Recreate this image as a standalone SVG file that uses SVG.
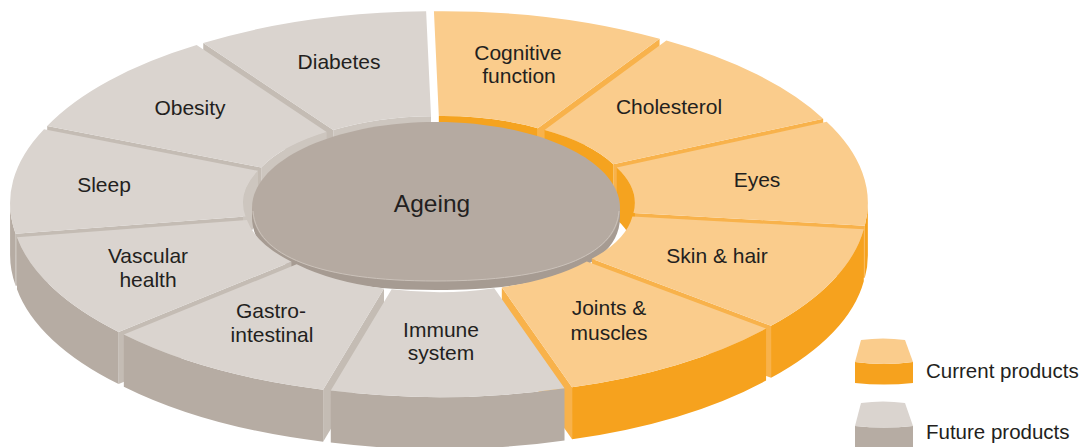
<svg xmlns="http://www.w3.org/2000/svg" width="1090" height="447" viewBox="0 0 1090 447">
<style>
.t{font-family:"Liberation Sans",Arial,Helvetica,sans-serif;font-size:21px;fill:#231f20;text-anchor:middle}
.lg{font-family:"Liberation Sans",Arial,Helvetica,sans-serif;font-size:20.5px;fill:#231f20}
.ot{fill:#facc8c}.ow{fill:#f6a21e}.or{fill:#f8b24b}.oi{fill:#f5a31f}
.gt{fill:#dad4cf}.gw{fill:#b6aca3}.gr{fill:#c4bcb4}.gi{fill:#cdc6bf}
</style>
<defs>
<path id="disc" d="M252,208 C252,160.5 334.4,122 436,122 C537.6,122 620,160.5 620,208 C620,255 555.6,281 436,281 C316.4,281 252,255 252,208 Z"/>
</defs>
<rect width="1090" height="447" fill="#ffffff"/>

<g id="node-cognitive">
<g transform="translate(439,204) scale(1,0.45) rotate(-1.2) translate(3.9,-13.4)">
<path class="or" d="M224.3,-349.1 L98.4,-153.1 L96.0,-37.5 L221.9,-233.5 Z"/>
<path class="oi" d="M0,-182 A182,182 0 0 1 98.4,-153.1 L96.0,-37.5 A182,182 0 0 0 -2.4,-66.4 Z"/>
<path class="ot" d="M0,-182 L0,-415 A415,415 0 0 1 224.3,-349.1 L98.4,-153.1 A182,182 0 0 0 0,-182 Z"/>
</g>
<text class="t" x="518" y="60">Cognitive</text>
<text class="t" x="519" y="83">function</text>
</g>

<g id="node-diabetes">
<g transform="translate(439,204) scale(1,0.45) rotate(-1.2) translate(-3.9,-13.4)">
<path class="gr" d="M-224.3,-349.1 L-98.4,-153.1 L-100.8,-37.5 L-226.7,-233.5 Z"/>
<path class="gi" d="M-98.4,-153.1 A182,182 0 0 1 0,-182 L-2.4,-66.4 A182,182 0 0 0 -100.8,-37.5 Z"/>
<path class="gt" d="M-98.4,-153.1 L-224.3,-349.1 A415,415 0 0 1 0,-415 L0,-182 A182,182 0 0 0 -98.4,-153.1 Z"/>
</g>
<text class="t" x="339" y="69">Diabetes</text>
</g>

<g id="node-cholesterol">
<g transform="translate(439,204) scale(1,0.45) rotate(-1.2) translate(10.6,-9.2)">
<path class="or" d="M377.5,-172.4 L165.5,-75.6 L163.1,40.0 L375.1,-56.8 Z"/>
<path class="oi" d="M98.4,-153.1 A182,182 0 0 1 165.5,-75.6 L163.1,40.0 A182,182 0 0 0 96.0,-37.5 Z"/>
<path class="ot" d="M98.4,-153.1 L224.3,-349.1 A415,415 0 0 1 377.5,-172.4 L165.5,-75.6 A182,182 0 0 0 98.4,-153.1 Z"/>
</g>
<text class="t" x="669" y="114">Cholesterol</text>
</g>

<g id="node-obesity">
<g transform="translate(439,204) scale(1,0.45) rotate(-1.2) translate(-10.6,-9.2)">
<path class="gr" d="M-377.5,-172.4 L-165.5,-75.6 L-167.9,40.0 L-379.9,-56.8 Z"/>
<path class="gi" d="M-165.5,-75.6 A182,182 0 0 1 -98.4,-153.1 L-100.8,-37.5 A182,182 0 0 0 -167.9,40.0 Z"/>
<path class="gt" d="M-165.5,-75.6 L-377.5,-172.4 A415,415 0 0 1 -224.3,-349.1 L-98.4,-153.1 A182,182 0 0 0 -165.5,-75.6 Z"/>
</g>
<text class="t" x="190" y="115">Obesity</text>
</g>

<g id="node-eyes">
<g transform="translate(439,204) scale(1,0.45) rotate(-1.2) translate(13.9,-2.0)">
<path class="or" d="M410.8,59.1 L180.1,25.9 L177.7,141.5 L408.4,174.7 Z"/>
<path class="oi" d="M165.5,-75.6 A182,182 0 0 1 182.0,3.8 L179.6,119.4 A182,182 0 0 0 163.1,40.0 Z"/>
<path class="ow" d="M414.9,8.7 A415,415 0 0 1 410.8,59.1 L408.4,174.7 A415,415 0 0 0 412.5,124.3 Z"/>
<path class="ot" d="M165.5,-75.6 L377.5,-172.4 A415,415 0 0 1 410.8,59.1 L180.1,25.9 A182,182 0 0 0 165.5,-75.6 Z"/>
</g>
<text class="t" x="757" y="187">Eyes</text>
</g>

<g id="node-sleep">
<g transform="translate(439,204) scale(1,0.45) rotate(-1.2) translate(-13.9,-2.0)">
<path class="gr" d="M-410.8,59.1 L-180.1,25.9 L-182.5,141.5 L-413.2,174.7 Z"/>
<path class="gw" d="M-410.8,59.1 A415,415 0 0 1 -414.9,-8.7 L-417.3,106.9 A415,415 0 0 0 -413.2,174.7 Z"/>
<path class="gi" d="M-182.0,-3.8 A182,182 0 0 1 -165.5,-75.6 L-167.9,40.0 A182,182 0 0 0 -184.4,111.8 Z"/>
<path class="gt" d="M-180.1,25.9 L-410.8,59.1 A415,415 0 0 1 -377.5,-172.4 L-165.5,-75.6 A182,182 0 0 0 -180.1,25.9 Z"/>
</g>
<text class="t" x="104" y="192">Sleep</text>
</g>

<g id="node-ageing">
<use href="#disc" transform="translate(0,9)" fill="#a69b92"/>
<rect x="252" y="208" width="368" height="9" fill="#a69b92"/>
<use href="#disc" fill="#b5aaa1"/>
<path d="M253,211 C256,256 320,281 436,281 C552,281 616,256 619,211" fill="none" stroke="#cbc2ba" stroke-width="1"/>
<text class="t" x="432" y="212" style="font-size:24.5px">Ageing</text>
</g>

<g id="node-skin-hair">
<g transform="translate(439,204) scale(1,0.45) rotate(-1.2) translate(12.7,5.8)">
<path class="or" d="M313.6,271.8 L137.5,119.2 L135.1,234.8 L311.2,387.4 Z"/>
<path class="ow" d="M410.8,59.1 A415,415 0 0 1 313.6,271.8 L311.2,387.4 A415,415 0 0 0 408.4,174.7 Z"/>
<path class="ot" d="M180.1,25.9 L410.8,59.1 A415,415 0 0 1 313.6,271.8 L137.5,119.2 A182,182 0 0 0 180.1,25.9 Z"/>
</g>
<text class="t" x="717" y="263">Skin &amp; hair</text>
</g>

<g id="node-vascular">
<g transform="translate(439,204) scale(1,0.45) rotate(-1.2) translate(-12.7,5.8)">
<path class="gr" d="M-313.6,271.8 L-137.5,119.2 L-139.9,234.8 L-316.0,387.4 Z"/>
<path class="gw" d="M-313.6,271.8 A415,415 0 0 1 -410.8,59.1 L-413.2,174.7 A415,415 0 0 0 -316.0,387.4 Z"/>
<path class="gt" d="M-137.5,119.2 L-313.6,271.8 A415,415 0 0 1 -410.8,59.1 L-180.1,25.9 A182,182 0 0 0 -137.5,119.2 Z"/>
</g>
<text class="t" x="148" y="263">Vascular</text>
<text class="t" x="148" y="287">health</text>
</g>

<g id="node-joints">
<g transform="translate(439,204) scale(1,0.45) rotate(-1.2) translate(7.6,11.8)">
<path class="or" d="M116.9,398.2 L51.3,174.6 L48.9,290.2 L114.5,513.8 Z"/>
<path class="ow" d="M313.6,271.8 A415,415 0 0 1 116.9,398.2 L114.5,513.8 A415,415 0 0 0 311.2,387.4 Z"/>
<path class="ot" d="M137.5,119.2 L313.6,271.8 A415,415 0 0 1 116.9,398.2 L51.3,174.6 A182,182 0 0 0 137.5,119.2 Z"/>
</g>
<text class="t" x="609" y="315">Joints &amp;</text>
<text class="t" x="609" y="340">muscles</text>
</g>

<g id="node-gastro">
<g transform="translate(439,204) scale(1,0.45) rotate(-1.2) translate(-7.6,11.8)">
<path class="gr" d="M-116.9,398.2 L-51.3,174.6 L-53.7,290.2 L-119.3,513.8 Z"/>
<path class="gw" d="M-116.9,398.2 A415,415 0 0 1 -313.6,271.8 L-316.0,387.4 A415,415 0 0 0 -119.3,513.8 Z"/>
<path class="gt" d="M-51.3,174.6 L-116.9,398.2 A415,415 0 0 1 -313.6,271.8 L-137.5,119.2 A182,182 0 0 0 -51.3,174.6 Z"/>
</g>
<text class="t" x="271" y="318">Gastro-</text>
<text class="t" x="272" y="342">intestinal</text>
</g>

<g id="node-immune">
<g transform="translate(439,204) scale(1,0.45) rotate(-1.2) translate(0,14)">
<path class="gw" d="M116.9,398.2 A415,415 0 0 1 -116.9,398.2 L-119.3,513.8 A415,415 0 0 0 114.5,513.8 Z"/>
<path class="gt" d="M51.3,174.6 L116.9,398.2 A415,415 0 0 1 -116.9,398.2 L-51.3,174.6 A182,182 0 0 0 51.3,174.6 Z"/>
</g>
<text class="t" x="441" y="337">Immune</text>
<text class="t" x="441" y="360">system</text>
</g>

<g id="legend-current">
<path class="ow" d="M855,362 Q884,366 913,362 L913,383 Q884,386 855,383 Z"/>
<path class="ot" d="M855,362 L861,340 Q883,337 905,340 L913,362 Q884,366 855,362 Z"/>
<text class="lg" x="926" y="378">Current products</text>
</g>

<g id="legend-future">
<path class="gw" d="M855,426 Q884,429 913,426 L913,447 L855,447 Z"/>
<path class="gt" d="M855,426 L861,403 Q883,400 905,403 L913,426 Q884,429 855,426 Z"/>
<text class="lg" x="926" y="439">Future products</text>
</g>
</svg>
